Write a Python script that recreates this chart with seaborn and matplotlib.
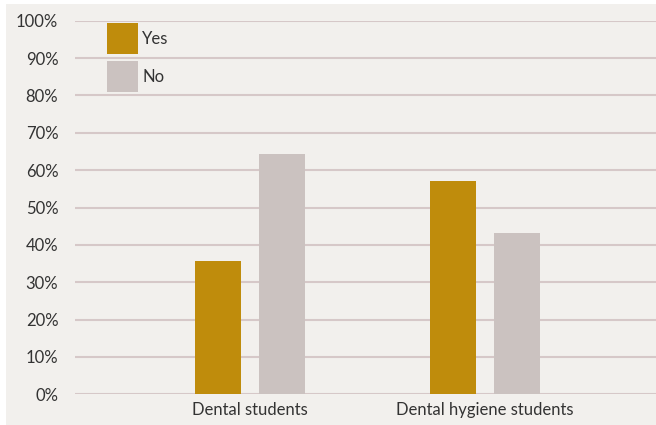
import matplotlib
matplotlib.use("Agg")
import matplotlib.pyplot as plt
import matplotlib.patches as mpatches
import seaborn as sns
import pandas as pd
from matplotlib.ticker import PercentFormatter

# values
groups = ["Dental students", "Dental hygiene students"]
yes_share = [35.6, 57.0]
no_share = [64.4, 43.3]
answers = ["Yes", "No"]
colors = ["#bf8c0c", "#cbc2c0"]

df = pd.DataFrame({
    "group": groups * 2,
    "answer": ["Yes"] * len(groups) + ["No"] * len(groups),
    "share": yes_share + no_share,
})

sns.set_theme(style="white")
plt.rcParams["font.family"] = ["Lato", "DejaVu Sans"]

bg = "#f2f0ed"
txt = "#333333"
fig = plt.figure(figsize=(6.56, 4.25), dpi=100, facecolor="white")
fig.patches.append(mpatches.Rectangle((6 / 656, 0), 1, 1 - 4 / 425,
                                      transform=fig.transFigure,
                                      facecolor=bg, edgecolor="none", zorder=-10))
ax = fig.add_axes([75 / 656, (425 - 394.3) / 425, 1 - 75 / 656, (394.3 - 20.7) / 425])
ax.patch.set_alpha(0)

sns.barplot(data=df, x="group", y="share", hue="answer", hue_order=answers,
            palette=colors, width=0.545, gap=0.28, saturation=1, linewidth=0,
            ax=ax, zorder=3, legend=False)

ax.set_ylim(0, 100)
ax.set_xlim(-0.745, 1.728)
ax.set_yticks(range(0, 101, 10))
ax.yaxis.set_major_formatter(PercentFormatter(decimals=0))
ax.grid(axis="y", color="#d6c8c8", linewidth=1.5, zorder=0)
ax.set_axisbelow(True)
for s in ax.spines.values():
    s.set_visible(False)
ax.tick_params(axis="y", length=0, pad=12, labelsize=12, labelcolor=txt)
ax.tick_params(axis="x", length=0, pad=5.5, labelsize=12, labelcolor=txt)
ax.set_xlabel("")
ax.set_ylabel("")

handles = [mpatches.Patch(facecolor=c, edgecolor="none", label=a)
           for a, c in zip(answers, colors)]
ax.legend(handles=handles, loc="upper left", frameon=False,
          bbox_to_anchor=(107 / 656, 1 - 23 / 425), bbox_transform=fig.transFigure,
          borderpad=0, borderaxespad=0, handlelength=1.86, handleheight=2.485,
          labelspacing=0.42, handletextpad=0.25, fontsize=12,
          labelcolor=txt)

fig.savefig("out.png", dpi=100, facecolor=fig.get_facecolor())
